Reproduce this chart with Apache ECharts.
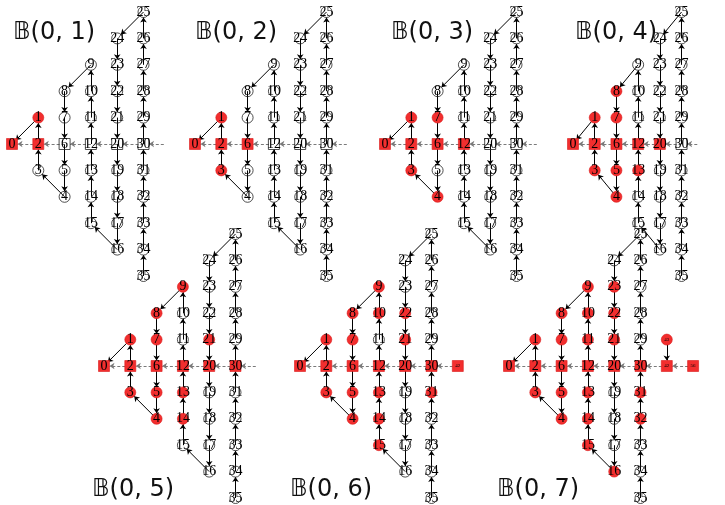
<!DOCTYPE html>
<html>
<head>
<meta charset="utf-8">
<title>B(0,r)</title>
<style>
    html, body { margin: 0; padding: 0; background: #fff; }
    #main { width: 725px; height: 505px; }
</style>
</head>
<body>
<div id="main"></div>
<script src="https://cdn.jsdelivr.net/npm/echarts@6/dist/echarts.min.js"></script>
<script>
// node ids per column, top to bottom (column c covers rows +c .. -c)
var columns = [
    [0],
    [1, 2, 3],
    [8, 7, 6, 5, 4],
    [9, 10, 11, 12, 13, 14, 15],
    [24, 23, 22, 21, 20, 19, 18, 17, 16],
    [25, 26, 27, 28, 29, 30, 31, 32, 33, 34, 35]
];
// nodes right of the spiral: [id, column, row]
var extraNodes = [[42, 6, 0], [43, 6, 1], [56, 7, 0]];
// the long path, solid arrows from each node to the next
var path = [35, 34, 33, 32, 31, 30, 29, 28, 27, 26, 25, 24, 23, 22, 21, 20, 19, 18,
            17, 16, 15, 14, 13, 12, 11, 10, 9, 8, 7, 6, 5, 4, 3, 2, 1, 0];
// shortcuts on the middle row, dashed arrows
var shortcut = [56, 42, 30, 20, 12, 6, 2, 0];
var extraEdges = [[43, 42]];
// nodes that turn red at radius r
var rings = [
    [0],
    [1, 2],
    [3, 6],
    [4, 7, 12],
    [5, 8, 13, 20],
    [9, 14, 21, 30],
    [10, 15, 22, 31, 42],
    [11, 16, 23, 32, 43, 56]
];
var radii = [1, 2, 3, 4, 5, 6, 7];

// where node 0 sits in each panel, and the title corner
var panels = [
    { x0: 12,  y0: 144, tx: 13,  ty: 21 },
    { x0: 195, y0: 144, tx: 195, ty: 21 },
    { x0: 385, y0: 144, tx: 391, ty: 21 },
    { x0: 573, y0: 144, tx: 575, ty: 21 },
    { x0: 104, y0: 366, tx: 92,  ty: 478 },
    { x0: 300, y0: 366, tx: 290, ty: 478 },
    { x0: 509, y0: 366, tx: 497, ty: 478 }
];
var dx = 26.3, dy = 26.4;

var pos = {};
columns.forEach(function (ids, c) {
    ids.forEach(function (id, k) { pos[id] = [c, c - k]; });
});
extraNodes.forEach(function (e) { pos[e[0]] = [e[1], e[2]]; });

var red = '#f22e2e';

var grids = [], xAxes = [], yAxes = [], series = [], titles = [];

radii.forEach(function (r, i) {
    var p = panels[i];
    var ball = {};
    for (var k = 0; k <= r; k++) rings[k].forEach(function (id) { ball[id] = true; });

    var shown = {};
    var data = [];
    Object.keys(pos).forEach(function (key) {
        var id = +key;
        var isExtra = id > 35;
        var inBall = !!ball[id];
        if (isExtra && !inBall) {
            if (id === 42) {
                // hidden end of the dashed stub right of 30
                data.push({ name: '42', value: pos[id], symbolSize: 12,
                    itemStyle: { opacity: 0 }, label: { show: false } });
                shown[id] = 'ghost';
            }
            return;
        }
        shown[id] = true;
        data.push({
            name: String(id),
            value: pos[id],
            symbol: pos[id][1] === 0 ? 'rect' : 'circle',
            symbolSize: 11,
            itemStyle: inBall
                ? { color: red, borderColor: '#d81818', borderWidth: 0.6 }
                : { color: 'rgba(255,255,255,0)', borderColor: '#222', borderWidth: 0.8 },
            label: { show: true, fontSize: isExtra ? 5 : 14 }
        });
    });

    var links = [];
    for (var a = 0; a + 1 < path.length; a++) {
        links.push({ source: String(path[a]), target: String(path[a + 1]) });
    }
    extraEdges.forEach(function (e) {
        if (shown[e[0]] === true && shown[e[1]] === true) {
            links.push({ source: String(e[0]), target: String(e[1]) });
        }
    });
    for (var b = 0; b + 1 < shortcut.length; b++) {
        var s = shortcut[b], t = shortcut[b + 1];
        if (!shown[s] || !shown[t]) continue;
        var l = { source: String(s), target: String(t),
            lineStyle: { type: [3, 2], color: '#7a7a7a', width: 1 } };
        if (shown[s] === 'ghost') {
            l.symbol = ['circle', 'arrow'];
            l.symbolSize = [0.01, 5];
        }
        links.push(l);
    }

    grids.push({ left: p.x0, top: p.y0 - 5 * dy, width: 7 * dx, height: 10 * dy });
    xAxes.push({ type: 'value', gridIndex: i, min: 0, max: 7, show: false });
    yAxes.push({ type: 'value', gridIndex: i, min: -5, max: 5, show: false });
    series.push({
        type: 'graph',
        coordinateSystem: 'cartesian2d',
        xAxisIndex: i,
        yAxisIndex: i,
        edgeSymbol: ['none', 'arrow'],
        edgeSymbolSize: 5,
        lineStyle: { color: '#000', width: 1, opacity: 1 },
        label: { show: true, position: 'inside', color: '#000',
                 fontFamily: 'Liberation Serif', fontSize: 14 },
        emphasis: { disabled: true },
        silent: true,
        data: data,
        links: links
    });
    titles.push({
        text: '\uD835\uDD39(0, ' + r + ')',
        left: p.tx,
        top: p.ty,
        padding: 0,
        textStyle: { fontFamily: '"DejaVu Sans ExtraLight", "DejaVu Sans"', fontSize: 24,
                     fontWeight: 'normal', color: '#111' }
    });
});

var myChart = echarts.init(document.getElementById('main'));
myChart.setOption({
    animation: false,
    title: titles,
    grid: grids,
    xAxis: xAxes,
    yAxis: yAxes,
    series: series
});
</script>
</body>
</html>
